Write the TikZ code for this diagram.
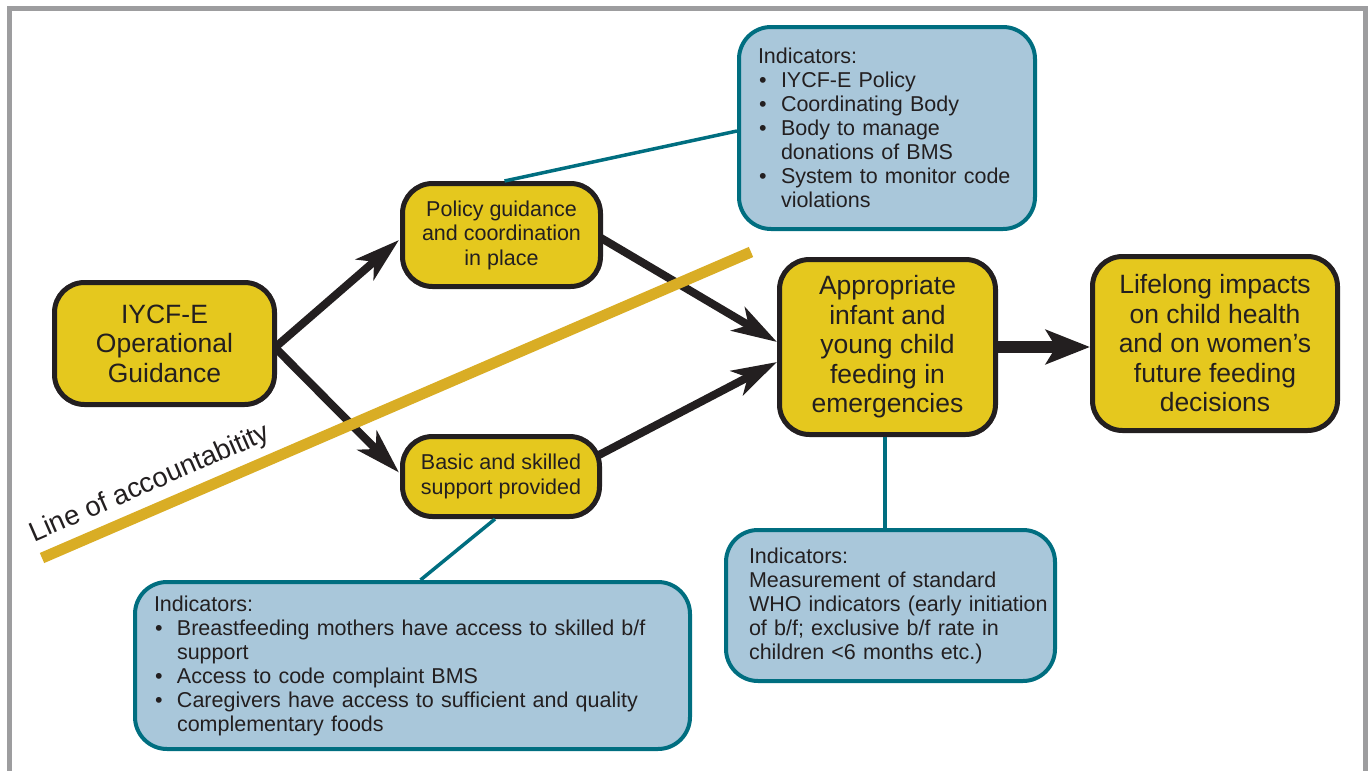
\documentclass[tikz,border=0pt]{standalone}
\usepackage{fontspec}
\setmainfont{Liberation Sans}
\usetikzlibrary{arrows.meta,calc}
\definecolor{ybox}{RGB}{229,200,30}
\definecolor{ink}{RGB}{35,31,32}
\definecolor{bbox}{RGB}{169,199,218}
\definecolor{tealc}{RGB}{0,110,128}
\definecolor{goldc}{RGB}{217,173,37}
\definecolor{framec}{RGB}{157,157,159}
\newcommand\bul{\makebox[23pt][l]{\hspace{1pt}\textbullet}}
\newcommand\ind{\hspace*{23pt}}
\begin{document}
\begin{tikzpicture}[x=1pt,y=-1pt,
  ybx/.style={draw=ink,line width=5pt,fill=ybox,rounded corners=30pt,align=center,text=ink,inner sep=0pt},
  ibx/.style={draw=tealc,line width=4pt,fill=bbox,rounded corners=32pt,align=left,text=ink,inner sep=0pt,font=\fontsize{21.5}{24}\selectfont},
  big/.style={font=\fontsize{26.5}{29.5}\selectfont},
  med/.style={font=\fontsize{21.5}{24.5}\selectfont},
  arr/.style={draw=ink,line width=8pt,-{Stealth[length=45pt,width=27pt,inset=12pt]}},
  arrbig/.style={draw=ink,line width=12pt,-{Stealth[length=44pt,width=34pt,inset=10pt]}},
  tl/.style={draw=tealc,line width=3.5pt}]
\useasboundingbox (0,0) rectangle (1368,771);
\clip (0,0) rectangle (1368,771);
% frame
\coordinate (f1) at (9.3,800);
\coordinate (f2) at (9.3,8.8);
\coordinate (f3) at (1365,8.8);
\coordinate (f4) at (1365,800);
\draw[framec,line width=5pt] (f1) -- (f2) -- (f3) -- (f4);
% yellow boxes
\node[ybx,big,minimum width=220pt,minimum height=122pt] (b1) at (164.5,343.5) {IYCF-E\\Operational\\Guidance};
\node[ybx,med,minimum width=198pt,minimum height=103pt] (b2) at (501.5,235) {Policy guidance\\and coordination\\in place};
\node[ybx,med,minimum width=197pt,minimum height=80pt] (b3) at (501,476.5) {Basic and skilled\\support provided};
\node[ybx,big,minimum width=216pt,minimum height=175pt] (b4) at (887.5,347) {Appropriate\\infant and\\young child\\feeding in\\emergencies};
\node[ybx,big,minimum width=245pt,minimum height=174pt] (b5) at (1215,343.5) {Lifelong impacts\\on child health\\and on women’s\\future feeding\\decisions};
% indicator boxes
\node[ibx,minimum width=296pt,minimum height=202pt,text width=258pt] (it) at (887,128)
 {\mbox{Indicators:}\\\mbox{\bul IYCF-E Policy}\\\mbox{\bul Coordinating Body}\\\mbox{\bul Body to manage}\\\mbox{\ind donations of BMS}\\\mbox{\bul System to monitor code}\\\mbox{\ind violations}};
\node[ibx,minimum width=555pt,minimum height=167pt,text width=517pt] (ibl) at (412.5,665.5)
 {\mbox{Indicators:}\\\mbox{\bul Breastfeeding mothers have access to skilled b/f}\\\mbox{\ind support}\\\mbox{\bul Access to code complaint BMS}\\\mbox{\bul Caregivers have access to sufficient and quality}\\\mbox{\ind complementary foods}};
\node[ibx,minimum width=329pt,minimum height=151pt,text width=283pt] (ibr) at (890.5,605.5)
 {\mbox{Indicators:}\\\mbox{Measurement of standard}\\\mbox{WHO indicators (early initiation}\\\mbox{of b/f; exclusive b/f rate in}\\\mbox{children <6 months etc.)}};
% teal connectors
\draw[tl] ($(b2.north)+(3,0)$) -- ($(it.west)+(0,3)$);
\draw[tl] ($(b3.south)+(-6,0)$) -- ($(ibl.north)+(8,0)$);
\draw[tl] ($(b4.south)+(-2.5,0)$) -- ($(b4.south |- ibr.north)+(-2.5,0)$);
% arrows
\draw[arr] ($(b1.east)+(-2,4)$) -- ($(b2.west)+(-1,5)$);
\draw[arr] ($(b1.east)+(-2,4)$) -- ($(b3.west)+(-1,-4)$);
\draw[arr] ($(b2.east)+(-2,3)$) -- ($(b4.west)+(0,-5)$);
\draw[arr] ($(b3.east)+(-4,-21)$) -- ($(b4.west)+(0,15)$);
\draw[arrbig] (b4.east) -- (b4.east -| b5.west);
% line of accountability
\coordinate (g1) at (42,558);
\coordinate (g2) at (751,252);
\draw[goldc,line width=11pt] (g1) -- (g2);
\node[rotate=23.5,text=ink,font=\fontsize{27.5}{30}\selectfont,inner sep=0pt] (loa) at (150,484) {Line of accountabitity};
\end{tikzpicture}
\end{document}
